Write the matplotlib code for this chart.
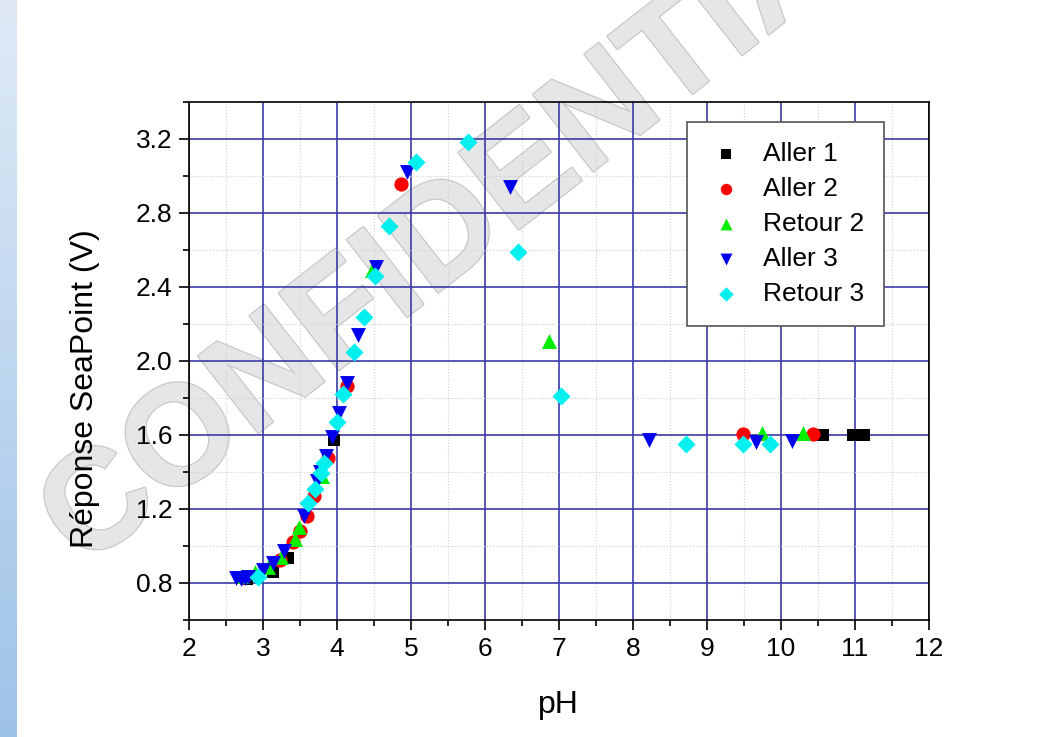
import matplotlib
matplotlib.use("Agg")
import matplotlib.pyplot as plt
import matplotlib.patheffects as pe
from matplotlib.ticker import MultipleLocator
import numpy as np

plt.rcParams['font.family'] = ['Liberation Sans', 'DejaVu Sans']

# donnees (pH, reponse en V)
aller1_ph = [2.78, 3.14, 3.34, 3.96, 10.57, 10.98, 11.05, 11.12]
aller1_v = [0.82, 0.86, 0.935, 1.575, 1.60, 1.60, 1.60, 1.60]

aller2_ph = [2.75, 3.23, 3.41, 3.50, 3.59, 3.69, 3.88, 4.14, 4.86, 9.49, 10.43]
aller2_v = [0.83, 0.925, 1.02, 1.08, 1.16, 1.27, 1.477, 1.863, 2.956, 1.607, 1.607]

retour2_ph = [2.72, 2.89, 3.07, 3.25, 3.43, 3.49, 3.80, 4.47, 6.87, 9.745, 10.30]
retour2_v = [0.84, 0.86, 0.885, 0.94, 1.037, 1.105, 1.376, 2.49, 2.107, 1.61, 1.61]

aller3_ph = [2.64, 2.70, 2.76, 2.80, 3.00, 3.14, 3.29, 3.55, 3.725, 3.77, 3.85,
             3.93, 4.03, 4.13, 4.29, 4.53, 4.95, 6.34, 8.22, 9.67, 10.15]
aller3_v = [0.825, 0.82, 0.825, 0.834, 0.87, 0.907, 0.975, 1.163, 1.35, 1.40, 1.488,
            1.59, 1.72, 1.88, 2.14, 2.51, 3.02, 2.94, 1.575, 1.56, 1.565]

retour3_ph = [2.93, 3.61, 3.70, 3.79, 3.83, 4.00, 4.085, 4.23, 4.36, 4.51, 4.70,
              5.07, 5.77, 6.45, 7.03, 8.72, 9.49, 9.86]
retour3_v = [0.834, 1.23, 1.31, 1.396, 1.45, 1.668, 1.824, 2.046, 2.24, 2.46, 2.73,
             3.077, 3.185, 2.59, 1.813, 1.553, 1.55, 1.55]

series = [
    ("Aller 1", aller1_ph, aller1_v, "s", "black", 85),
    ("Aller 2", aller2_ph, aller2_v, "o", "#ff0000", 105),
    ("Retour 2", retour2_ph, retour2_v, "^", "#00ee00", 115),
    ("Aller 3", aller3_ph, aller3_v, "v", "#0000ee", 115),
    ("Retour 3", retour3_ph, retour3_v, "D", "#00f0f0", 85),
]

fig = plt.figure(figsize=(10.53, 7.37), dpi=100)

# bande bleue a gauche (fond de diapo)
bg = fig.add_axes([0, 0, 0.016, 1])
grad = np.linspace(0, 1, 256).reshape(-1, 1)
bg.imshow(grad, aspect='auto', cmap=matplotlib.colors.LinearSegmentedColormap.from_list(
    "bleu", ["#dfeaf6", "#9ec3e8"]), extent=[0, 1, 0, 1])
bg.axis('off')

# filigrane, sous le graphique
wm_ax = fig.add_axes([0, 0, 1, 1], zorder=-1)
wm_ax.axis('off')
wm = wm_ax.text(0.452, 0.707, "CONFIDENTIAL", transform=fig.transFigure, fontsize=102,
                fontweight='bold', color='#e6e6e6', rotation=38,
                ha='center', va='center', rotation_mode='anchor', clip_on=False)
wm.set_path_effects([pe.withStroke(linewidth=2, foreground='#c8c8c8'), pe.Normal()])

ax = fig.add_axes([0.1795, 0.1588, 0.7025, 0.7028])
ax.patch.set_alpha(0)

for nom, x, y, m, c, s in series:
    ax.scatter(x, y, marker=m, color=c, s=s, linewidths=0, label=nom, zorder=3)

ax.set_xlim(2, 12)
ax.set_ylim(0.6, 3.4)
ax.xaxis.set_major_locator(MultipleLocator(1))
ax.xaxis.set_minor_locator(MultipleLocator(0.5))
ax.set_yticks([0.8, 1.2, 1.6, 2.0, 2.4, 2.8, 3.2])
ax.yaxis.set_minor_locator(MultipleLocator(0.2))

ax.set_axisbelow(True)
ax.grid(which='major', color='#3b3ba8', linewidth=1.2)
ax.grid(which='minor', color='#cfcfcf', linewidth=0.8, linestyle=':')

ax.tick_params(which='major', direction='out', length=7, width=1.2, labelsize=19, pad=5)
ax.tick_params(which='minor', direction='out', length=4, width=1.2)
for sp in ax.spines.values():
    sp.set_color('black')
    sp.set_linewidth(1.2)

ax.set_xlabel("pH", fontsize=23)
ax.set_ylabel("Réponse SeaPoint (V)", fontsize=23)
ax.xaxis.set_label_coords(0.5, -0.135)
ax.yaxis.set_label_coords(-0.12, 0.446)

leg = ax.legend(loc='upper right', bbox_to_anchor=(0.939, 0.961), borderaxespad=0,
                fontsize=19, fancybox=False, framealpha=1, edgecolor='#555555',
                handletextpad=0.7, labelspacing=0.42, borderpad=0.75, handlelength=1.4,
                markerscale=0.8)
leg.get_frame().set_linewidth(1.2)
leg.set_zorder(5)

fig.savefig("out.png", dpi=100)
